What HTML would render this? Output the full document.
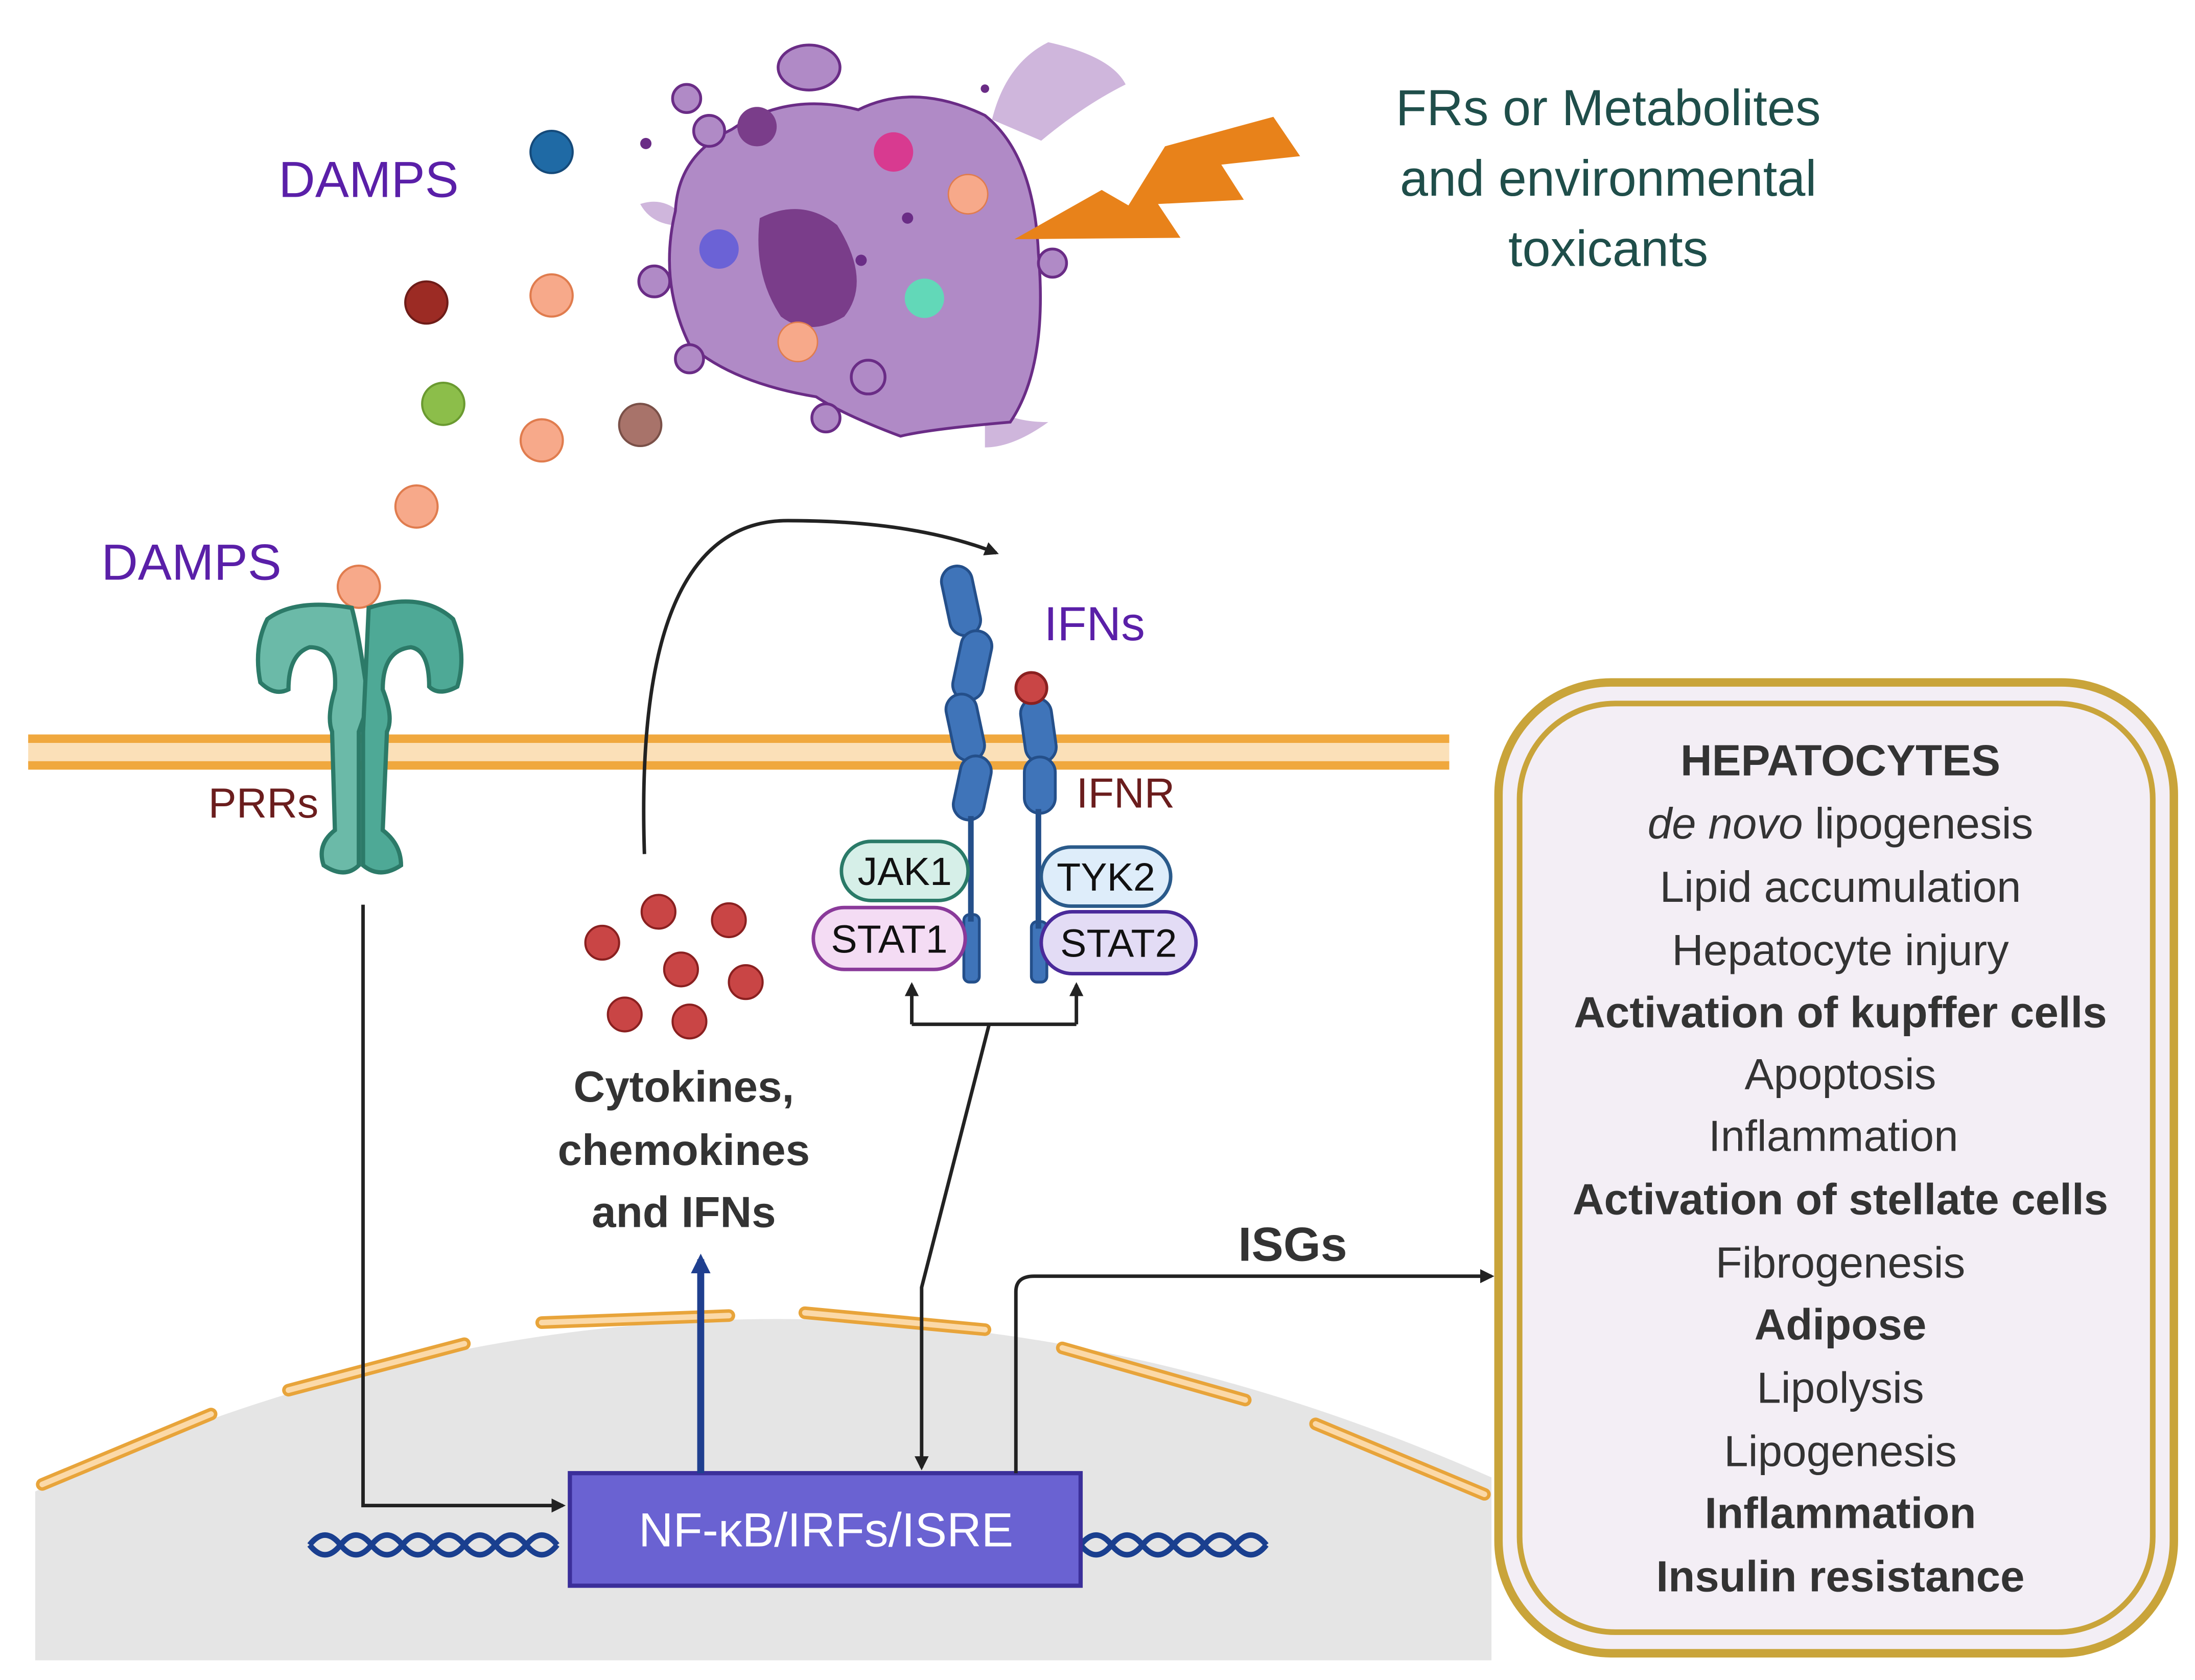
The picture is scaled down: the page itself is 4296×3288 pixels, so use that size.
<!DOCTYPE html>
<html><head><meta charset="utf-8"><style>
html,body{margin:0;padding:0;background:#fff;}
svg{display:block;}
text{font-family:"Liberation Sans",sans-serif;}
</style></head><body>
<svg width="4296" height="3288" viewBox="0 0 1560 1194" xmlns="http://www.w3.org/2000/svg">
<defs>
<marker id="ah" markerWidth="10" markerHeight="10" refX="8" refY="5" orient="auto" markerUnits="userSpaceOnUse"><path d="M0,0 L10,5 L0,10 Z" fill="#222"/></marker>
<marker id="ahb" markerWidth="14" markerHeight="14" refX="10" refY="7" orient="auto" markerUnits="userSpaceOnUse"><path d="M0,0 L14,7 L0,14 Z" fill="#1f3f8f"/></marker>
</defs>
<rect width="1560" height="1194" fill="#fff"/>

<!-- nucleus -->
<path d="M25,1060 Q540,820 1060,1050 L1060,1180 L25,1180 Z" fill="#e5e5e5"/>
<g stroke="#e8a43a" stroke-width="9" stroke-linecap="round" fill="none">
<path d="M30,1055 L150,1005"/><path d="M205,988 L330,955"/><path d="M385,940 L518,935"/>
<path d="M572,933 L700,945"/><path d="M755,958 L885,995"/><path d="M935,1012 L1055,1062"/>
</g>
<g stroke="#fbd9a8" stroke-width="4" stroke-linecap="round" fill="none">
<path d="M30,1055 L150,1005"/><path d="M205,988 L330,955"/><path d="M385,940 L518,935"/>
<path d="M572,933 L700,945"/><path d="M755,958 L885,995"/><path d="M935,1012 L1055,1062"/>
</g>
<!-- DNA -->
<g stroke="#1a3f8f" stroke-width="4" fill="none">
<path d="M220,1098 q11,-14 22,0 t22,0 t22,0 t22,0 t22,0 t22,0 t22,0 t22,0"/>
<path d="M220,1098 q11,14 22,0 t22,0 t22,0 t22,0 t22,0 t22,0 t22,0 t22,0"/>
<path d="M768,1098 q11,-14 22,0 t22,0 t22,0 t22,0 t22,0 t22,0"/>
<path d="M768,1098 q11,14 22,0 t22,0 t22,0 t22,0 t22,0 t22,0"/>
</g>
<rect x="405" y="1047" width="363" height="80" fill="#6a62d2" stroke="#3b2f9a" stroke-width="3"/>
<text x="587" y="1099" font-size="34" fill="#fff" text-anchor="middle">NF-κB/IRFs/ISRE</text>

<!-- membrane -->
<rect x="20" y="526" width="1010" height="17" fill="#fbe0b8"/>
<rect x="20" y="522" width="1010" height="6" fill="#f0a83e"/>
<rect x="20" y="541" width="1010" height="6" fill="#f0a83e"/>

<!-- cell -->
<path d="M705,85 Q715,45 745,30 Q790,40 800,60 Q770,75 740,100 Z" fill="#cfb6dc"/>
<path d="M455,145 Q470,140 482,150 L478,160 Q462,158 455,145 Z" fill="#cfb6dc"/>
<path d="M700,285 Q715,300 745,300 Q720,318 700,318 Z" fill="#cfb6dc"/>
<g stroke="#6a2c86" stroke-width="2">
<path d="M520,92 Q560,65 610,78 Q650,58 700,82 Q735,110 738,180 Q745,260 718,300 Q660,305 640,310 Q600,295 580,282 Q520,272 490,245 Q468,200 480,150 Q482,110 520,92 Z" fill="#b08ac6"/>
<ellipse cx="575" cy="48" rx="22" ry="16" fill="#b08ac6"/>
<circle cx="504" cy="93" r="11" fill="#b08ac6"/><circle cx="488" cy="70" r="10" fill="#b08ac6"/>
<circle cx="465" cy="200" r="11" fill="#b08ac6"/><circle cx="490" cy="255" r="10" fill="#b08ac6"/>
<circle cx="587" cy="297" r="10" fill="#b08ac6"/><circle cx="617" cy="268" r="12" fill="#b08ac6"/>
<circle cx="748" cy="187" r="10" fill="#b08ac6"/>
</g>
<path d="M540,155 Q570,140 595,160 Q620,200 600,225 Q575,240 555,225 Q535,195 540,155 Z" fill="#7a3d8a"/>
<circle cx="538" cy="90" r="14" fill="#7a3d8a"/>
<circle cx="635" cy="108" r="14" fill="#d83a90"/>
<circle cx="688" cy="138" r="14" fill="#f7a98a" stroke="#e07c4e"/>
<circle cx="511" cy="177" r="14" fill="#6b62d6"/>
<circle cx="657" cy="212" r="14" fill="#62d8b8"/>
<circle cx="567" cy="243" r="14" fill="#f7a98a" stroke="#e07c4e"/>
<g fill="#6a2c86"><circle cx="459" cy="102" r="4"/><circle cx="700" cy="63" r="3"/><circle cx="612" cy="185" r="4"/><circle cx="645" cy="155" r="4"/></g>
<path d="M721,170 L783,135 L802,146 L828,104 L905,83 L924,111 L868,117 L884,142 L823,145 L839,169 Z" fill="#e8821a"/>

<text x="1143" y="89" font-size="36" fill="#1f4e4a" text-anchor="middle">FRs or Metabolites</text>
<text x="1143" y="139" font-size="36" fill="#1f4e4a" text-anchor="middle">and environmental</text>
<text x="1143" y="189" font-size="36" fill="#1f4e4a" text-anchor="middle">toxicants</text>

<text x="198" y="140" font-size="36" fill="#5a1fa8">DAMPS</text>
<text x="72" y="412" font-size="36" fill="#5a1fa8">DAMPS</text>

<g stroke-width="1.5">
<circle cx="392" cy="108" r="15" fill="#1f6aa5" stroke="#154a7a"/>
<circle cx="303" cy="215" r="15" fill="#9c2b24" stroke="#6e1c18"/>
<circle cx="392" cy="210" r="15" fill="#f7a98a" stroke="#e07c4e"/>
<circle cx="315" cy="287" r="15" fill="#8cbe4a" stroke="#6a9a30"/>
<circle cx="385" cy="313" r="15" fill="#f7a98a" stroke="#e07c4e"/>
<circle cx="455" cy="302" r="15" fill="#a8736a" stroke="#7a5048"/>
<circle cx="296" cy="360" r="15" fill="#f7a98a" stroke="#e07c4e"/>
<circle cx="255" cy="417" r="15" fill="#f7a98a" stroke="#e07c4e"/>
</g>

<!-- PRR -->
<g fill="#4ea996" stroke="#2c7a68" stroke-width="3">
<path d="M250,432 Q210,425 190,440 Q180,460 185,485 Q195,495 205,490 Q205,465 220,460 Q240,460 238,490 Q232,510 236,520 L238,590 Q225,600 230,615 Q245,625 255,615 L255,520 L262,500 Q255,450 250,432 Z" fill="#6bbaa8"/>
<path d="M262,432 Q300,420 322,440 Q332,465 325,488 Q312,495 305,488 Q305,462 292,460 Q272,462 272,490 Q280,510 275,520 L272,590 Q285,600 285,615 Q270,625 258,615 L258,520 Z"/>
</g>
<text x="148" y="581" font-size="30" fill="#6b1d1d">PRRs</text>

<!-- IFN receptor -->
<g fill="#3f74b9" stroke="#244f8a" stroke-width="2">
<rect x="672" y="402" width="22" height="50" rx="11" transform="rotate(-12 683 427)"/>
<rect x="680" y="448" width="22" height="50" rx="11" transform="rotate(12 691 473)"/>
<rect x="675" y="493" width="22" height="48" rx="11" transform="rotate(-12 686 517)"/>
<rect x="680" y="537" width="22" height="46" rx="11" transform="rotate(12 691 560)"/>
<rect x="727" y="496" width="22" height="46" rx="11" transform="rotate(-8 738 519)"/>
<rect x="728" y="538" width="22" height="40" rx="11"/>
<rect x="685" y="650" width="11" height="48" rx="4"/>
<rect x="733" y="655" width="11" height="43" rx="4"/>
</g>
<path d="M690,580 L690,655 M738,575 L738,660" stroke="#244f8a" stroke-width="4"/>
<circle cx="733" cy="489" r="11" fill="#c94545" stroke="#8a2020" stroke-width="2"/>
<text x="742" y="455" font-size="34" fill="#5a1fa8">IFNs</text>
<text x="765" y="574" font-size="30" fill="#6b1d1d">IFNR</text>

<rect x="598" y="598" width="90" height="42" rx="21" fill="#d6efe8" stroke="#2a7a68" stroke-width="2.5"/>
<text x="643" y="629" font-size="28" fill="#111" text-anchor="middle">JAK1</text>
<rect x="578" y="645" width="108" height="44" rx="22" fill="#f4dcf4" stroke="#8a3a9a" stroke-width="2.5"/>
<text x="632" y="677" font-size="28" fill="#111" text-anchor="middle">STAT1</text>
<rect x="740" y="602" width="92" height="42" rx="21" fill="#deedfa" stroke="#2a5a8a" stroke-width="2.5"/>
<text x="786" y="633" font-size="28" fill="#111" text-anchor="middle">TYK2</text>
<rect x="740" y="648" width="110" height="44" rx="22" fill="#e3dcf5" stroke="#4a2a9a" stroke-width="2.5"/>
<text x="795" y="680" font-size="28" fill="#111" text-anchor="middle">STAT2</text>

<!-- cytokines -->
<g fill="#c94545" stroke="#8a2020" stroke-width="1.5">
<circle cx="468" cy="648" r="12"/><circle cx="518" cy="654" r="12"/><circle cx="428" cy="670" r="12"/>
<circle cx="484" cy="689" r="12"/><circle cx="530" cy="698" r="12"/><circle cx="444" cy="721" r="12"/><circle cx="490" cy="726" r="12"/>
</g>
<g font-size="31" font-weight="bold" fill="#333" text-anchor="middle">
<text x="486" y="783">Cytokines,</text><text x="486" y="828">chemokines</text><text x="486" y="872">and IFNs</text>
</g>

<!-- arrows -->
<g stroke="#222" stroke-width="2.5" fill="none">
<path d="M458,607 Q450,370 560,370 Q650,370 708,393" marker-end="url(#ah)"/>
<path d="M258,643 L258,1070 L400,1070" marker-end="url(#ah)"/>
<path d="M648,728 L765,728"/>
<path d="M648,728 L648,700" marker-end="url(#ah)"/>
<path d="M765,728 L765,700" marker-end="url(#ah)"/>
<path d="M703,728 L655,915 L655,1043" marker-end="url(#ah)"/>
<path d="M722,1047 L722,918 Q722,907 735,907 L1060,907" marker-end="url(#ah)"/>
</g>
<path d="M498,1047 L498,895" stroke="#1f3f8f" stroke-width="5" marker-end="url(#ahb)"/>
<text x="880" y="896" font-size="34" font-weight="bold" fill="#333">ISGs</text>

<!-- hepatocytes box -->
<rect x="1065" y="485" width="480" height="690" rx="80" fill="#f3eef5" stroke="#c9a43a" stroke-width="6"/>
<rect x="1080" y="500" width="450" height="660" rx="68" fill="none" stroke="#c9a43a" stroke-width="4"/>
<g font-size="31" fill="#333" text-anchor="middle">
<text x="1308" y="551" font-weight="bold">HEPATOCYTES</text>
<text x="1308" y="596"><tspan font-style="italic">de novo</tspan> lipogenesis</text>
<text x="1308" y="641">Lipid accumulation</text>
<text x="1308" y="686">Hepatocyte injury</text>
<text x="1308" y="730" font-weight="bold">Activation of kupffer cells</text>
<text x="1308" y="774">Apoptosis</text>
<text x="1303" y="818">Inflammation</text>
<text x="1308" y="863" font-weight="bold">Activation of stellate cells</text>
<text x="1308" y="908">Fibrogenesis</text>
<text x="1308" y="952" font-weight="bold">Adipose</text>
<text x="1308" y="997">Lipolysis</text>
<text x="1308" y="1042">Lipogenesis</text>
<text x="1308" y="1086" font-weight="bold">Inflammation</text>
<text x="1308" y="1131" font-weight="bold">Insulin resistance</text>
</g>
</svg>
</body></html>
